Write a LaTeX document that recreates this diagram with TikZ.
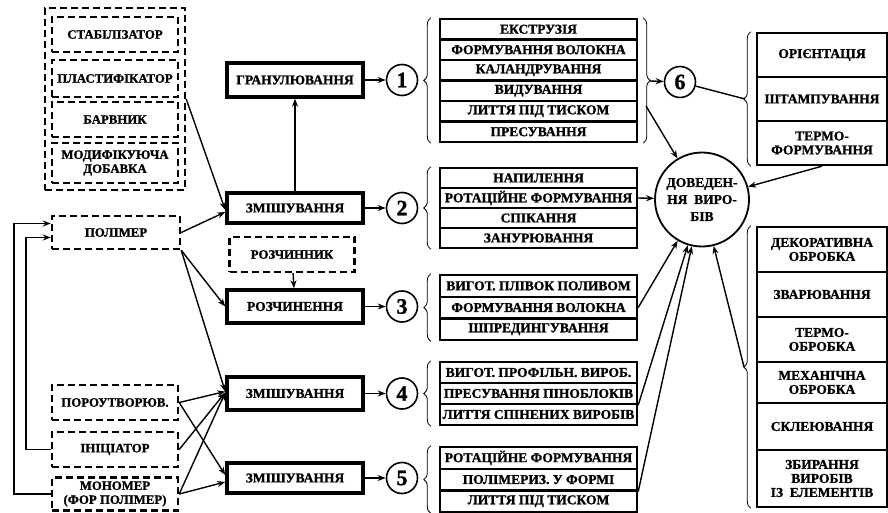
\documentclass[tikz,border=0pt]{standalone}
\usepackage{fontspec}
\setmainfont{Liberation Serif}[BoldFeatures={FakeBold=1.2}]
\usetikzlibrary{arrows.meta, positioning, decorations.pathreplacing}

\begin{document}
\begin{tikzpicture}[x=1pt, y=-1pt, >={Stealth[length=8pt,width=6pt]}, line width=1.4pt, font=\fontsize{13.5}{14}\selectfont\bfseries]
    \tikzstyle{dbox}=[draw, dash pattern=on 7pt off 4pt, line width=2.4pt, align=center, inner sep=1pt, font=\fontsize{12.8}{14}\selectfont\bfseries]
    \tikzstyle{proc}=[draw, line width=3.5pt, minimum width=136pt, align=center]
    \tikzstyle{item}=[draw, line width=2.4pt, minimum width=197pt, inner sep=0pt, align=center]
    \tikzstyle{num}=[circle, draw, line width=1.6pt, minimum size=31pt, inner sep=0pt, font=\fontsize{22}{22}\selectfont\bfseries]
    \tikzstyle{brc}=[decorate, decoration={brace, amplitude=7pt}, line width=0.8pt]

    \useasboundingbox (0,0) rectangle (888,513);

    % additives
    \node[dbox, minimum width=140pt, minimum height=182pt] (adds) at (115,99) {};
    \foreach \t/\y/\h [count=\i] in {СТАБІЛІЗАТОР/34.5/35, ПЛАСТИФІКАТОР/78.5/37, БАРВНИК/119.5/35, {МОДИФІКУЮЧА\\ДОБАВКА}/163/40}
        \node[dbox, minimum width=126pt, minimum height=\h pt] (A-\i) at (115,\y) {\t};

    \node[dbox, minimum width=128pt, minimum height=33pt] (pol) at (116,232.5) {ПОЛІМЕР};
    \node[dbox, minimum width=126pt, minimum height=35pt] (por) at (115,402.5) {ПОРОУТВОРЮВ.};
    \node[dbox, minimum width=126pt, minimum height=35pt] (ini) at (115,449.5) {ІНІЦІАТОР};
    \node[dbox, minimum width=126pt, minimum height=33pt] (mon) at (115,494) {МОНОМЕР\\(ФОР ПОЛІМЕР)};

    % processing
    \node[proc, minimum height=34pt] (gran) at (295,80) {ГРАНУЛЮВАННЯ};
    \node[proc, minimum height=30pt] (mix1) at (295,208) {ЗМІШУВАННЯ};
    \node[dbox, minimum width=125pt, minimum height=35pt] (solv) at (292,254.5) {РОЗЧИННИК};
    \node[proc, minimum height=33pt] (dis) at (295,306.5) {РОЗЧИНЕННЯ};
    \node[proc, minimum height=33pt] (mix2) at (295,393.5) {ЗМІШУВАННЯ};
    \node[proc, minimum height=30pt] (mix3) at (295,478) {ЗМІШУВАННЯ};

    \foreach \n/\y in {1/80, 2/208, 3/306.5, 4/393.5, 5/478}
        \node[num] (C-\n) at (402,\y) {\n};
    \node[num] (C-6) at (680,82) {6};
    \node[circle, draw, line width=1.8pt, minimum size=94pt, inner sep=0pt, align=center, font=\fontsize{13.5}{17}\selectfont\bfseries] (dov) at (702,199.5) {ДОВЕДЕН-\\НЯ~~ВИРО-\\БІВ};

    % methods
    \foreach \t [count=\i] in {ЕКСТРУЗІЯ, ФОРМУВАННЯ ВОЛОКНА, КАЛАНДРУВАННЯ, ВИДУВАННЯ, ЛИТТЯ ПІД ТИСКОМ, ПРЕСУВАННЯ}{
        \pgfmathsetmacro\y{19+(\i-0.5)*20.5}
        \node[item, minimum height=20.5pt] (L1-\i) at (538.5,\y) {\t};
    }
    \foreach \t [count=\i] in {НАПИЛЕННЯ, РОТАЦІЙНЕ ФОРМУВАННЯ, СПІКАННЯ, ЗАНУРЮВАННЯ}{
        \pgfmathsetmacro\y{168+(\i-0.5)*20}
        \node[item, minimum height=20pt] (L2-\i) at (538.5,\y) {\t};
    }
    \foreach \t [count=\i] in {ВИГОТ. ПЛІВОК ПОЛИВОМ, ФОРМУВАННЯ ВОЛОКНА, ШПРЕДИНГУВАННЯ}{
        \pgfmathsetmacro\y{275+(\i-0.5)*21.7}
        \node[item, minimum height=21.7pt] (L3-\i) at (538.5,\y) {\t};
    }
    \foreach \t [count=\i] in {ВИГОТ. ПРОФІЛЬН. ВИРОБ., ПРЕСУВАННЯ ПІНОБЛОКІВ, ЛИТТЯ СПІНЕНИХ ВИРОБІВ}{
        \pgfmathsetmacro\y{362+(\i-0.5)*21}
        \node[item, minimum height=21pt] (L4-\i) at (538.5,\y) {\t};
    }
    \foreach \t [count=\i] in {РОТАЦІЙНЕ ФОРМУВАННЯ, ПОЛІМЕРИЗ. У ФОРМІ, ЛИТТЯ ПІД ТИСКОМ}{
        \pgfmathsetmacro\y{447+(\i-0.5)*21.7}
        \node[item, minimum height=21.7pt] (L5-\i) at (538.5,\y) {\t};
    }

    % finishing
    \foreach \t [count=\i] in {ОРІЄНТАЦІЯ, ШТАМПУВАННЯ, {ТЕРМО-\\ФОРМУВАННЯ}}{
        \pgfmathsetmacro\y{33+(\i-0.5)*44}
        \node[item, minimum width=130pt, minimum height=44pt] (P-\i) at (822,\y) {\t};
    }
    \foreach \t/\a/\b [count=\i] in {{ДЕКОРАТИВНА\\ОБРОБКА}/227/272, ЗВАРЮВАННЯ/272/317, {ТЕРМО-\\ОБРОБКА}/317/362, {МЕХАНІЧНА\\ОБРОБКА}/362/403, СКЛЕЮВАННЯ/403/450, {ЗБИРАННЯ\\ВИРОБІВ\\ІЗ~~ЕЛЕМЕНТІВ}/450/507}{
        \pgfmathsetmacro\y{(\a+\b)/2}
        \pgfmathsetmacro\h{\b-\a}
        \node[item, minimum width=130pt, minimum height=\h pt] (Q-\i) at (822,\y) {\t};
    }

    % braces
    \draw[brc] ([xshift=-8pt]L1-6.south west) -- ([xshift=-8pt]L1-1.north west);
    \draw[brc] ([xshift=-8pt]L2-4.south west) -- ([xshift=-8pt]L2-1.north west);
    \draw[brc] ([xshift=-8pt]L3-3.south west) -- ([xshift=-8pt]L3-1.north west);
    \draw[brc] ([xshift=-8pt]L4-3.south west) -- ([xshift=-8pt]L4-1.north west);
    \draw[brc] ([xshift=-8pt]L5-3.south west) -- ([xshift=-8pt]L5-1.north west);
    \draw[brc] ([xshift=5pt]L1-1.north east) -- ([xshift=5pt]L1-6.south east);
    \draw[brc] ([xshift=-5pt]P-3.south west) -- ([xshift=-5pt]P-1.north west);
    \draw[brc] ([xshift=-5pt]Q-6.south west) -- ([xshift=-5pt]Q-1.north west);

    \coordinate (T1) at (650,81);
    \coordinate (T1b) at (646,106);
    \coordinate (G1) at (745,99);
    \coordinate (G2) at (744,367);

    % connectors
    \draw[->] (adds.east) -- ([yshift=-2pt]mix1.west);
    \draw[->] (pol.east) -- ([yshift=-4pt]mix1.west);
    \draw[->] (pol.south east) -- (dis.west);
    \draw[->] (pol.south east) -- ([yshift=2pt]mix2.west);
    \draw[->] (por.east) -- ([yshift=2pt]mix2.west);
    \draw[->] (por.east) -- ([yshift=3pt]mix3.west);
    \draw[->] (ini.east) -- ([yshift=1pt]mix2.west);
    \draw[->] (mon.east) -- ([yshift=1pt]mix2.west);
    \draw[->] (mon.east) -- ([yshift=-4pt]mix3.west);
    \draw[->] (mon.west) -- ++(-37,0) |- ([yshift=9pt]pol.west);
    \draw[->] (ini.west) -- ++(-25,0) |- ([yshift=-5pt]pol.west);

    \draw[->] (mix1) -- (gran);
    \draw[->] (solv) -- (dis);
    \foreach \b/\n in {gran/1, mix1/2, dis/3, mix2/4, mix3/5}
        \draw[->] (\b) -- (C-\n);

    \draw[->] (T1) -- (C-6);
    \draw[->] (T1b) -- (dov);
    \draw (C-6) -- (G1);
    \draw[->] (P-3.south) -- (dov);
    \draw[->] (L2-2.east) -- (dov);
    \draw[->] (L3-2.east) -- (dov);
    \draw[->] (L4-2.south east) -- (dov);
    \draw[->] (L5-2.south east) -- (dov);
    \draw[->] (G2) -- (dov);
\end{tikzpicture}
\end{document}
